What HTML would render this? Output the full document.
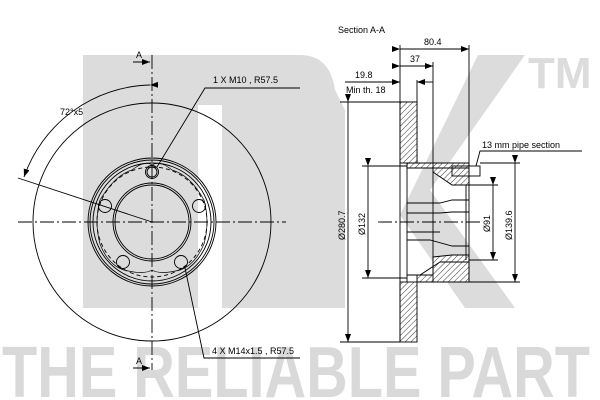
<!DOCTYPE html>
<html><head><meta charset="utf-8"><style>
html,body{margin:0;padding:0;background:#fff;width:600px;height:400px;overflow:hidden}
svg{display:block}
text{font-family:"Liberation Sans",sans-serif;fill:#000}
</style></head><body>
<svg width="600" height="400" viewBox="0 0 600 400" xmlns="http://www.w3.org/2000/svg">
<defs>
<pattern id="h" width="4" height="4" patternUnits="userSpaceOnUse" patternTransform="rotate(45)">
<rect width="4" height="4" fill="#fff"/><line x1="0" y1="0" x2="0" y2="4" stroke="#000" stroke-width="0.8"/>
</pattern>
<marker id="ar" markerWidth="8" markerHeight="6" refX="8" refY="3" orient="auto" markerUnits="userSpaceOnUse"><path d="M0,0 L8,3 L0,6z" fill="#000"/></marker>
</defs>
<!-- watermark -->
<g fill="#dcdcdc">
<path d="M83,55 H300 Q330,55 335,90 L345,110 V308 H222 V105 H198 V308 H83 Z"/>
<path d="M478,55 H525 L430,190 L515,308 H465 L400,215 Z"/>
<text x="528" y="88" font-size="44" style="fill:#dcdcdc" font-weight="bold">TM</text>
<text x="2" y="397" font-size="72" font-weight="bold" style="fill:#d9d9d9" textLength="588" lengthAdjust="spacingAndGlyphs">THE RELIABLE PART</text>
</g>
<g fill="none" stroke="#000" stroke-width="0.9">
<!-- front view -->
<circle cx="152" cy="222" r="119"/>
<circle cx="152" cy="222" r="64"/><circle cx="152" cy="222" r="62"/><circle cx="152" cy="222" r="59"/>
<circle cx="152" cy="222" r="55" stroke-dasharray="4,3"/>
<circle cx="152" cy="222" r="39"/><circle cx="152" cy="222" r="37"/>
<path d="M100,200 Q115,175 132,170 Q145,160 152,165 Q160,160 172,170 Q190,175 204,200 Q210,222 204,244 Q195,265 180,270 Q160,275 152,270 Q144,275 124,270 Q108,265 100,244 Q94,222 100,200Z" stroke-width="0.7"/>
<circle cx="152" cy="172" r="6.5"/><circle cx="152" cy="172" r="5"/>
<circle cx="105" cy="206" r="6.5"/><circle cx="199" cy="206" r="6.5"/>
<circle cx="123" cy="262" r="6.5"/><circle cx="181" cy="262" r="6.5"/>
<line x1="152" y1="55" x2="152" y2="370" stroke-dasharray="14,3,2,3"/>
<line x1="18" y1="222" x2="286" y2="222" stroke-dasharray="14,3,2,3"/>
<path d="M150,85 A137,137 0 0 0 24,177" marker-start="url(#ar)" marker-end="url(#ar)"/>
<line x1="18" y1="178" x2="152" y2="222"/>
<path d="M157,167 L205,88 H300"/>
<path d="M185,268 L204,358 H300"/>
<line x1="133" y1="62" x2="150" y2="62" marker-end="url(#ar)"/>
<line x1="133" y1="368" x2="150" y2="368" marker-end="url(#ar)"/>
<!-- section -->
<path d="M400,102 H417 V163 H469 V168 H433 V163" />
<rect x="400" y="102" width="17" height="61" fill="url(#h)"/>
<rect x="400" y="282" width="17" height="60" fill="url(#h)"/>
<path d="M407,163 H469 V168 H458 L433,172 V168 H407Z" fill="url(#h)"/>
<path d="M433,172 L452,185 H469 V168 H433Z" fill="url(#h)"/>
<path d="M433,257 L452,255 H469 V282 H417 V275 H433Z" fill="url(#h)"/>
<line x1="400" y1="102" x2="400" y2="342"/>
<line x1="407" y1="163" x2="407" y2="282"/>
<line x1="433" y1="163" x2="433" y2="282"/>
<line x1="469" y1="163" x2="469" y2="282"/>
<line x1="466" y1="185" x2="466" y2="260"/>
<path d="M407,203 H440 L452,200 H469 M407,213 H440 L452,212 H469"/>
<path d="M407,240 H430 L452,246 H469 M407,232 H440"/>
<path d="M407,275 H420 L440,262 H469"/>
<rect x="452" y="166" width="28" height="10"/>
<line x1="378" y1="222" x2="482" y2="222" stroke-dasharray="14,3,2,3"/>
<!-- dims -->
<line x1="348" y1="102" x2="348" y2="342" marker-start="url(#ar)" marker-end="url(#ar)"/>
<line x1="340" y1="102" x2="400" y2="102"/><line x1="340" y1="342" x2="400" y2="342"/>
<line x1="368" y1="166" x2="368" y2="278" marker-start="url(#ar)" marker-end="url(#ar)"/>
<line x1="362" y1="166" x2="407" y2="166"/><line x1="362" y1="278" x2="407" y2="278"/>
<line x1="493" y1="185" x2="493" y2="260" marker-start="url(#ar)" marker-end="url(#ar)"/>
<line x1="469" y1="185" x2="498" y2="185"/><line x1="469" y1="260" x2="498" y2="260"/>
<line x1="515" y1="163" x2="515" y2="282" marker-start="url(#ar)" marker-end="url(#ar)"/>
<line x1="480" y1="163" x2="520" y2="163"/><line x1="469" y1="282" x2="520" y2="282"/>
<line x1="400" y1="45" x2="400" y2="102"/><line x1="469" y1="45" x2="469" y2="163"/>
<line x1="433" y1="62" x2="433" y2="163"/><line x1="417" y1="80" x2="417" y2="102"/>
<line x1="400" y1="49" x2="469" y2="49" marker-start="url(#ar)" marker-end="url(#ar)"/>
<line x1="400" y1="66" x2="433" y2="66" marker-start="url(#ar)" marker-end="url(#ar)"/>
<line x1="345" y1="82" x2="400" y2="82" marker-end="url(#ar)"/>
<line x1="433" y1="82" x2="417" y2="82" marker-end="url(#ar)"/>
<path d="M476,166 L480,151 H582"/>
</g>
<g font-size="9">
<text x="136" y="58">A</text><text x="136" y="364">A</text>
<text x="60" y="115">72°x5</text>
<text x="213" y="83">1 X M10 , R57.5</text>
<text x="212" y="354">4 X M14x1.5 , R57.5</text>
<text x="338" y="33">Section A-A</text>
<text x="424" y="45">80.4</text>
<text x="410" y="62">37</text>
<text x="355" y="78">19.8</text>
<text x="346" y="93">Min th. 18</text>
<text x="482" y="148">13 mm pipe section</text>
<text transform="translate(345,240) rotate(-90)">Ø280.7</text>
<text transform="translate(365,235) rotate(-90)">Ø132</text>
<text transform="translate(490,232) rotate(-90)">Ø91</text>
<text transform="translate(512,240) rotate(-90)">Ø139.6</text>
</g>
</svg>
</body></html>
